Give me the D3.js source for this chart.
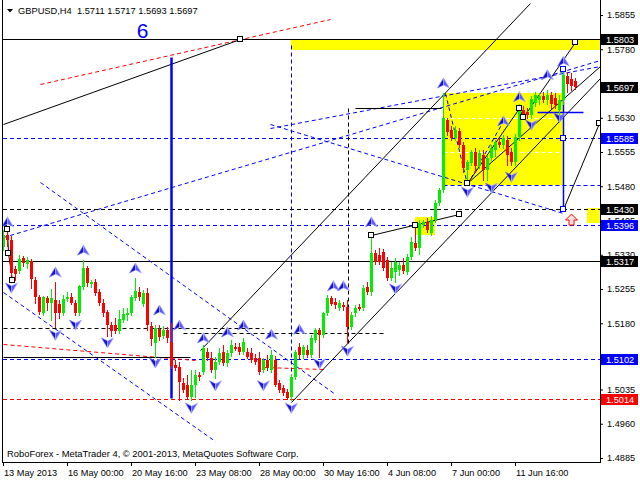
<!DOCTYPE html>
<html><head><meta charset="utf-8">
<script src="https://cdn.jsdelivr.net/npm/d3@7/dist/d3.min.js"></script>
<style>
html,body{margin:0;padding:0;background:#fff;}
text{font-family:"Liberation Sans",Arial,sans-serif;}
</style></head><body>
<svg id="chart" width="640" height="480"></svg>
<script>
// ---------------- DATA ----------------
const symbol = "GBPUSD,H4";
const opens = [1.5347,1.5373,1.5362,1.5299,1.5294,1.5323,1.5310,1.5316,1.5275,1.5238,
1.5202,1.5235,1.5224,1.5231,1.5222,1.5202,1.5233,1.5238,1.5224,1.5202,
1.5259,1.5301,1.5266,1.5270,1.5248,1.5224,1.5205,1.5176,1.5176,1.5163,
1.5187,1.5198,1.5202,1.5235,1.5248,1.5222,1.5246,1.5174,1.5137,1.5167,
1.5152,1.5165,1.5139,1.5089,1.5084,1.5049,1.5045,1.5018,1.5045,1.5067,
1.5073,1.5117,1.5104,1.5078,1.5095,1.5117,1.5093,1.5115,1.5128,1.5128,
1.5117,1.5117,1.5115,1.5104,1.5104,1.5078,1.5100,1.5078,1.5100,1.5049,
1.5038,1.5029,1.5018,1.5062,1.5128,1.5110,1.5121,1.5110,1.5143,1.5165,
1.5154,1.5202,1.5235,1.5227,1.5213,1.5220,1.5216,1.5172,1.5202,1.5216,
1.5213,1.5259,1.5248,1.5334,1.5329,1.5336,1.5318,1.5279,1.5292,1.5297,
1.5308,1.5292,1.5325,1.5356,1.5345,1.5395,1.5402,1.5378,1.5406,1.5443,
1.5472,1.5625,1.5603,1.5586,1.5601,1.5570,1.5516,1.5531,1.5555,1.5524,
1.5548,1.5516,1.5542,1.5559,1.5577,1.5570,1.5581,1.5555,1.5533,1.5588,
1.5647,1.5643,1.5636,1.5662,1.5669,1.5678,1.5669,1.5680,1.5673,1.5647,
1.5669,1.5721,1.5715,1.5711];
const highs = [1.5384,1.5393,1.5371,1.5305,1.5329,1.5327,1.5325,1.5321,1.5281,1.5242,
1.5240,1.5240,1.5255,1.5270,1.5231,1.5242,1.5248,1.5246,1.5231,1.5264,
1.5318,1.5305,1.5275,1.5277,1.5255,1.5233,1.5209,1.5183,1.5192,1.5209,
1.5213,1.5213,1.5242,1.5279,1.5259,1.5253,1.5257,1.5183,1.5176,1.5176,
1.5174,1.5172,1.5181,1.5100,1.5095,1.5060,1.5067,1.5078,1.5078,1.5073,
1.5132,1.5126,1.5117,1.5106,1.5126,1.5132,1.5121,1.5143,1.5137,1.5137,
1.5148,1.5126,1.5126,1.5113,1.5117,1.5104,1.5110,1.5121,1.5108,1.5056,
1.5045,1.5036,1.5067,1.5121,1.5137,1.5132,1.5132,1.5154,1.5170,1.5170,
1.5205,1.5242,1.5240,1.5235,1.5231,1.5227,1.5231,1.5205,1.5220,1.5222,
1.5264,1.5270,1.5369,1.5340,1.5345,1.5343,1.5325,1.5314,1.5323,1.5314,
1.5323,1.5332,1.5369,1.5400,1.5406,1.5406,1.5411,1.5415,1.5450,1.5476,
1.5684,1.5630,1.5612,1.5612,1.5608,1.5577,1.5538,1.5559,1.5564,1.5559,
1.5559,1.5548,1.5570,1.5581,1.5586,1.5592,1.5590,1.5564,1.5594,1.5660,
1.5656,1.5651,1.5678,1.5686,1.5684,1.5686,1.5691,1.5686,1.5684,1.5680,
1.5737,1.5730,1.5728,1.5717];
const lows = [1.5340,1.5349,1.5284,1.5275,1.5290,1.5305,1.5301,1.5257,1.5224,1.5200,
1.5198,1.5209,1.5187,1.5172,1.5192,1.5198,1.5229,1.5222,1.5198,1.5198,
1.5255,1.5262,1.5259,1.5242,1.5220,1.5196,1.5152,1.5152,1.5159,1.5159,
1.5183,1.5187,1.5198,1.5231,1.5231,1.5218,1.5165,1.5132,1.5106,1.5143,
1.5148,1.5139,1.5082,1.5078,1.5012,1.5029,1.5014,1.5012,1.5018,1.5056,
1.5069,1.5100,1.5073,1.5060,1.5091,1.5089,1.5086,1.5108,1.5121,1.5113,
1.5113,1.5104,1.5095,1.5091,1.5069,1.5073,1.5078,1.5073,1.5043,1.5029,
1.5023,1.5014,1.5013,1.5058,1.5104,1.5104,1.5106,1.5106,1.5139,1.5106,
1.5150,1.5198,1.5220,1.5213,1.5209,1.5209,1.5137,1.5167,1.5196,1.5209,
1.5209,1.5244,1.5242,1.5310,1.5310,1.5297,1.5275,1.5275,1.5270,1.5286,
1.5290,1.5288,1.5321,1.5340,1.5332,1.5391,1.5380,1.5373,1.5402,1.5439,
1.5467,1.5592,1.5581,1.5581,1.5566,1.5511,1.5489,1.5527,1.5511,1.5520,
1.5494,1.5494,1.5538,1.5546,1.5566,1.5564,1.5527,1.5527,1.5527,1.5581,
1.5630,1.5630,1.5630,1.5656,1.5660,1.5665,1.5660,1.5651,1.5651,1.5630,
1.5660,1.5686,1.5691,1.5693];
const closes = [1.5373,1.5362,1.5290,1.5288,1.5321,1.5312,1.5318,1.5277,1.5238,1.5205,
1.5238,1.5224,1.5235,1.5202,1.5202,1.5233,1.5238,1.5224,1.5202,1.5262,
1.5301,1.5268,1.5270,1.5246,1.5224,1.5202,1.5176,1.5163,1.5163,1.5189,
1.5200,1.5202,1.5238,1.5251,1.5238,1.5246,1.5176,1.5146,1.5170,1.5150,
1.5165,1.5148,1.5086,1.5082,1.5051,1.5034,1.5018,1.5045,1.5067,1.5062,
1.5126,1.5104,1.5078,1.5095,1.5115,1.5093,1.5115,1.5132,1.5124,1.5117,
1.5139,1.5106,1.5100,1.5095,1.5073,1.5100,1.5082,1.5110,1.5045,1.5034,
1.5027,1.5016,1.5062,1.5117,1.5110,1.5128,1.5110,1.5148,1.5165,1.5154,
1.5202,1.5235,1.5222,1.5220,1.5224,1.5216,1.5172,1.5198,1.5213,1.5211,
1.5257,1.5248,1.5334,1.5314,1.5314,1.5301,1.5279,1.5301,1.5314,1.5308,
1.5294,1.5325,1.5358,1.5345,1.5400,1.5402,1.5384,1.5406,1.5443,1.5472,
1.5630,1.5599,1.5586,1.5603,1.5570,1.5520,1.5533,1.5555,1.5524,1.5553,
1.5516,1.5542,1.5564,1.5577,1.5570,1.5586,1.5548,1.5533,1.5588,1.5651,
1.5638,1.5636,1.5671,1.5680,1.5678,1.5669,1.5680,1.5660,1.5658,1.5669,
1.5724,1.5704,1.5700,1.5697];

const timeLabels = ["13 May 2013","16 May 00:00","20 May 16:00","23 May 08:00","28 May 00:00","30 May 16:00","4 Jun 08:00","7 Jun 00:00","11 Jun 16:00"];
const timeLabelBars = [0,16,32,48,64,80,96,112,128];
const priceTicks = [1.4885,1.4960,1.5035,1.5105,1.5180,1.5255,1.5330,1.5405,1.5480,1.5555,1.5630,1.5705,1.5780,1.5855];
// labels hidden behind price tags are left blank
const priceTickLabels = ["1.4885","1.4960","1.5035","","1.5180","1.5255","1.5330","1.5405","1.5480","1.5555","1.5630","","1.5780","1.5855"];

// highlighted price labels on the axis
const tagPrices = [1.5803,1.5697,1.5585,1.5430,1.5396,1.5317,1.5102,1.5014];
const tagColors = ["#000000","#000000","#0000ff","#000000","#0000ff","#000000","#0000ff","#ff0000"];

// full-width horizontal levels
const levelPrices = [1.5803,1.5317,1.5430,1.5585,1.5396,1.5102,1.5014];
const levelColors = ["#000000","#000000","#000000","#0000ff","#0000ff","#0000ff","#ff0000"];
const levelDashed = [false,false,true,true,true,true,true];

// drawing objects, [bar1, price1, bar2, price2]
const blackSolidSegs = [
 [0,1.5616,59.25,1.5803],
 [1.1,1.5386,1.3,1.5334],[1.3,1.5334,2.2,1.5275],
 [92,1.5373,114,1.5419],
 [116,1.5487,129,1.5651],[129,1.5651,130,1.5632],[130,1.5632,143,1.5796],
 [72,1.5008,149.25,1.5717],
 [49.25,1.5121,131.75,1.5882],
 [116,1.5487,149.25,1.5743],
 [140,1.5430,149,1.5619],
 [88,1.5651,109.5,1.5651],
 [0,1.5106,46.75,1.5106]
];
const blackDashSegs = [
 [0,1.5169,65,1.5169],
 [45,1.5159,95.5,1.5159],
 [86.25,1.5651,86.25,1.5132]
];
const blueDashSegs = [
 [0,1.5369,149.25,1.5757],
 [66.75,1.5608,149.25,1.5743],
 [66.75,1.5616,140,1.5421],
 [0,1.5248,53,1.4922],
 [9.25,1.5489,83,1.5025],
 [110,1.5483,149.25,1.5483],
 [110.5,1.5684,116,1.5485],[116,1.5485,125,1.5623],
 [72,1.5789,72,1.5012]
];
const blueSolidSegs = [[140,1.5737,140,1.5430],[133.5,1.5643,145,1.5643]];
const blueThickSegs = [[42,1.5763,42,1.5016]];
const redDashSegs = [[9.25,1.5704,81.75,1.5846],[0,1.5134,48,1.5100],[65,1.5084,80,1.5080]];
const whiteDashSegs = [[110,1.5630,140,1.5630],[110,1.5555,140,1.5555]];

// yellow zones [bar1, bar2, priceTop, priceBottom]
const zones = [[72,149.25,1.5803,1.5778],[110,140,1.5684,1.5483],[103,108,1.5413,1.5373],[146,149.25,1.5432,1.5400]];

const blackBoxes = [[59.25,1.5803],[1.1,1.5386],[1.3,1.5334],[2.2,1.5275],[92,1.5373],[103,1.5395],[114,1.5419],[116,1.5487],[129,1.5651],[130,1.5632],[143,1.5796],[149,1.5619]];
const blueBoxes = [[140,1.5737],[140,1.5585],[140,1.5430]];

const upArrows = [[1,1.5402],[13,1.5292],[20,1.5340],[33,1.5301],[39,1.5209],[44,1.5176],[50,1.5148],[56,1.5161],[60,1.5176],[67,1.5156],[74,1.5167],[82.5,1.5262],[85,1.5262],[92,1.5402],[110,1.5706],[125,1.5623],[129,1.5676],[136,1.5724],[140,1.5754]];
const downArrows = [[2,1.5257],[13,1.5154],[18,1.5176],[26,1.5137],[38,1.5093],[47,1.4994],[53,1.5043],[65,1.5043],[72,1.4994],[79,1.5091],[86,1.5119],[98,1.5255],[116,1.5467],[122,1.5476],[127,1.5500],[132,1.5614],[139,1.5630]];
const redArrows = [[142,1.5406]];

const waveLabel = {text:"6", bar:34.9, price:1.5805};
const copyright = "RoboForex - MetaTrader 4, \u00A9 2001-2013, MetaQuotes Software Corp.";

// ---------------- CHART ----------------
const svg = d3.select("#chart");
const x = d3.scaleLinear().domain([0,149.25]).range([3,600]);
const y = d3.scaleLinear().domain([1.4885,1.5855]).range([458,15]);
const px = v => Math.round(x(v)) + 0.5;
const py = v => Math.round(y(v)) + 0.5;

svg.append("rect").attr("width",640).attr("height",480).attr("fill","#fff");
svg.append("defs").append("clipPath").attr("id","clip")
  .append("rect").attr("x",3).attr("y",0).attr("width",597).attr("height",462);
const plot = svg.append("g").attr("clip-path","url(#clip)");

// zones
plot.selectAll(".zone").data(zones).join("rect")
  .attr("x",d=>Math.round(x(d[0]))).attr("width",d=>Math.round(x(d[1]))-Math.round(x(d[0])))
  .attr("y",d=>Math.round(y(d[2]))).attr("height",d=>Math.round(y(d[3]))-Math.round(y(d[2])))
  .attr("fill","#ffff00");

function segs(list,color,width,dash){
  plot.append("g").selectAll("line").data(list).join("line")
    .attr("x1",d=>px(d[0])).attr("y1",d=>py(d[1]))
    .attr("x2",d=>px(d[2])).attr("y2",d=>py(d[3]))
    .attr("stroke",color).attr("stroke-width",width)
    .attr("stroke-dasharray",dash||null);
}
// full-width levels
plot.append("g").selectAll("line").data(levelPrices).join("line")
  .attr("x1",3).attr("x2",600).attr("y1",d=>py(d)).attr("y2",d=>py(d))
  .attr("stroke",(d,i)=>levelColors[i]).attr("stroke-width",1)
  .attr("stroke-dasharray",(d,i)=>levelDashed[i]?"4,3":null);

segs(whiteDashSegs,"#ffffff",1,"4,3");
segs(blueDashSegs,"#0000ff",1,"4,3");
segs(redDashSegs,"#ff0000",1,"4,3");
segs(blackDashSegs,"#000000",1,"4,3");
segs(blackSolidSegs,"#000000",1);
segs(blueSolidSegs,"#0000ff",1.5);
segs(blueThickSegs,"#0000ff",2.5);

// candles
const bars = d3.range(opens.length).map(i=>({i,o:opens[i],h:highs[i],l:lows[i],c:closes[i]}));
const cg = plot.append("g").attr("shape-rendering","crispEdges");
const col = d => d.c >= d.o ? "#00ee00" : "#ff0000";
cg.selectAll(".wick").data(bars).join("line")
  .attr("x1",d=>px(d.i)).attr("x2",d=>px(d.i))
  .attr("y1",d=>Math.round(y(d.h))).attr("y2",d=>Math.round(y(d.l))+1)
  .attr("stroke",col);
cg.selectAll(".body").data(bars).join("rect")
  .attr("x",d=>Math.round(x(d.i))-1).attr("width",3)
  .attr("y",d=>Math.round(Math.min(y(d.o),y(d.c))))
  .attr("height",d=>Math.max(1,Math.round(Math.abs(y(d.o)-y(d.c)))))
  .attr("fill",col);

// boxes
plot.append("g").selectAll("rect").data(blackBoxes).join("rect")
  .attr("x",d=>Math.round(x(d[0]))-2.5).attr("y",d=>Math.round(y(d[1]))-2.5)
  .attr("width",5).attr("height",5).attr("fill","#fff").attr("stroke","#000");
plot.append("g").selectAll("rect").data(blueBoxes).join("rect")
  .attr("x",d=>Math.round(x(d[0]))-2.5).attr("y",d=>Math.round(y(d[1]))-2.5)
  .attr("width",5).attr("height",5).attr("fill","#fff").attr("stroke","#0000ff");

// arrows
function arrows(list,dir){
  const g = plot.append("g");
  const s = dir;
  const sel = g.selectAll("g").data(list).join("g")
    .attr("transform",d=>`translate(${x(d[0])+0.5},${y(d[1])})`);
  sel.append("path").attr("d",`M0,${-5*s} L0,${2*s} L-6,${5*s} Z`).attr("fill","#1010d0").attr("stroke","#8080ff").attr("stroke-width",0.7);
  sel.append("path").attr("d",`M0,${-5*s} L6,${5*s} L0,${2*s} Z`).attr("fill","#5a5aff").attr("stroke","#b0b0ff").attr("stroke-width",0.7);
}
arrows(upArrows,1);
arrows(downArrows,-1);
plot.append("g").selectAll("path").data(redArrows).join("path")
  .attr("transform",d=>`translate(${x(d[0])+0.5},${y(d[1])})`)
  .attr("d","M0,-6 L6,0 L2.5,0 L2.5,5 L-2.5,5 L-2.5,0 L-6,0 Z")
  .attr("fill","#ffe0e0").attr("stroke","#ff0000").attr("stroke-width",1);

// wave label
plot.append("text").attr("x",x(waveLabel.bar)).attr("y",y(waveLabel.price))
  .attr("text-anchor","middle").attr("font-size",21).attr("fill","#0000ff").text(waveLabel.text);

// frame
const frame = svg.append("g").attr("stroke","#000").attr("stroke-width",1);
frame.append("line").attr("x1",2.5).attr("x2",2.5).attr("y1",0).attr("y2",463);
frame.append("line").attr("x1",600.5).attr("x2",600.5).attr("y1",0).attr("y2",463);
frame.append("line").attr("x1",2).attr("x2",601).attr("y1",462.5).attr("y2",462.5);

// price axis
const yAxis = d3.axisRight(y).tickValues(priceTicks)
  .tickFormat(d=>priceTickLabels[priceTicks.indexOf(d)])
  .tickSizeInner(3).tickSizeOuter(0).tickPadding(4);
const ya = svg.append("g").attr("transform","translate(600,0)").call(yAxis);
ya.select(".domain").remove();
ya.selectAll("text").attr("font-size",9.2).attr("fill","#000").attr("font-family","Liberation Sans, Arial, sans-serif");
ya.selectAll("line").attr("stroke","#000");

// highlighted tags
const tags = svg.append("g");
tags.selectAll("rect").data(tagPrices).join("rect")
  .attr("x",601).attr("width",37).attr("y",d=>Math.round(y(d))-5).attr("height",11)
  .attr("fill",(d,i)=>tagColors[i]);
tags.selectAll("text").data(tagPrices).join("text")
  .attr("x",606).attr("y",d=>Math.round(y(d))+0.5).attr("dy","0.35em")
  .attr("font-size",9.2).attr("fill","#fff").text(d=>d.toFixed(4));

// time axis
const xAxis = d3.axisBottom(x).tickValues(timeLabelBars)
  .tickFormat(d=>timeLabels[timeLabelBars.indexOf(d)])
  .tickSizeInner(4).tickSizeOuter(0).tickPadding(3.5);
const xa = svg.append("g").attr("transform","translate(0,462)").call(xAxis);
xa.select(".domain").remove();
xa.selectAll("text").attr("text-anchor","start").attr("dx","0.5")
  .attr("font-size",9.2).attr("fill","#000").attr("font-family","Liberation Sans, Arial, sans-serif");
xa.selectAll("line").attr("stroke","#000");

// title
svg.append("path").attr("d","M7,9 L13,9 L10,12.5 Z").attr("fill","#000");
const last = opens.length-1;
svg.append("text").attr("x",18).attr("y",14).attr("font-size",9.3).attr("fill","#000")
  .style("white-space","pre")
  .text(`${symbol}  ${opens[last].toFixed(4)} ${highs[last].toFixed(4)} ${lows[last].toFixed(4)} ${closes[last].toFixed(4)}`);
svg.append("text").attr("x",7).attr("y",457).attr("font-size",9.4).attr("fill","#000").text(copyright);
</script>
</body></html>
